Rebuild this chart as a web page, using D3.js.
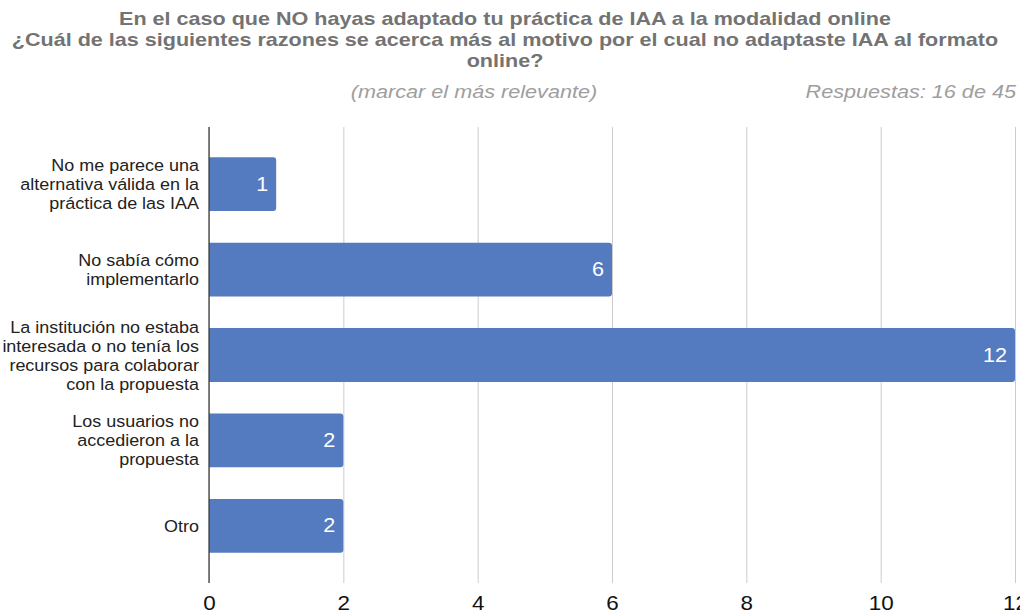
<!DOCTYPE html>
<html>
<head>
<meta charset="utf-8">
<script src="https://cdn.jsdelivr.net/npm/d3@7"></script>
<style>
  html, body { margin: 0; padding: 0; background: #fff; }
  svg { display: block; font-family: "Liberation Sans", Arial, Helvetica, sans-serif; }
</style>
</head>
<body>
<svg id="chart" width="1020" height="614"></svg>
<script>
// Reasons for not moving IAA practice online (16 responses)
const categories = [
  ["No me parece una", "alternativa válida en la", "práctica de las IAA"],
  ["No sabía cómo", "implementarlo"],
  ["La institución no estaba", "interesada o no tenía los", "recursos para colaborar", "con la propuesta"],
  ["Los usuarios no", "accedieron a la", "propuesta"],
  ["Otro"]
];
const values = [1, 6, 12, 2, 2];
const tickValues = [0, 2, 4, 6, 8, 10, 12];
const titleLines = [
  "En el caso que NO hayas adaptado tu práctica de IAA a la modalidad online",
  "¿Cuál de las siguientes razones se acerca más al motivo por el cual no adaptaste IAA al formato",
  "online?"
];
const subtitle = "(marcar el más relevante)";
const responses = "Respuestas: 16 de 45";

const svg = d3.select("#chart");
const barColor = "#547bc0";

const x = d3.scaleLinear().domain([0, 12]).range([209, 1015]);
const ids = categories.map((c, i) => i);
const y = d3.scaleBand().domain(ids).range([127, 583]).paddingInner(0.37).paddingOuter(0.355);

// Title (slightly widened lettering)
const titleY = [25, 46, 67];
titleLines.forEach((t, i) => {
  svg.append("g").attr("transform", `translate(505,${titleY[i]}) scale(1.16,1)`)
    .append("text").attr("text-anchor", "middle")
    .attr("fill", "#737373").attr("font-weight", "bold").attr("font-size", 18.6)
    .text(t);
});
svg.append("g").attr("transform", "translate(474,98) scale(1.17,1)")
  .append("text").attr("text-anchor", "middle")
  .attr("font-style", "italic").attr("font-size", 18.5).attr("fill", "#9e9e9e").text(subtitle);
svg.append("g").attr("transform", "translate(1016,98) scale(1.17,1)")
  .append("text").attr("text-anchor", "end")
  .attr("font-style", "italic").attr("font-size", 18.5).attr("fill", "#9e9e9e").text(responses);

// Gridlines and bottom axis
const axis = d3.axisBottom(x).tickValues(tickValues).tickSize(456).tickPadding(13).tickFormat(d3.format("d"));
const gAxis = svg.append("g").attr("transform", "translate(0,127)").call(axis);
gAxis.select(".domain").remove();
gAxis.selectAll(".tick line").attr("stroke", "#cccccc").attr("stroke-width", 1);
gAxis.selectAll(".tick text")
  .attr("font-size", 19.5).attr("fill", "#111")
  .attr("font-family", "Liberation Sans, Arial, sans-serif")
  .attr("transform", "scale(1.15,1)");

// Bars with rounded right ends
const r = 3;
function barPath(x0, x1, y0, h) {
  const rr = Math.min(r, (x1 - x0) / 2);
  return `M${x0},${y0}H${x1 - rr}Q${x1},${y0} ${x1},${y0 + rr}V${y0 + h - rr}Q${x1},${y0 + h} ${x1 - rr},${y0 + h}H${x0}Z`;
}
svg.append("g").selectAll("path").data(values).join("path")
  .attr("d", (v, i) => barPath(x(0), x(v), y(i), y.bandwidth()))
  .attr("fill", barColor);

// Zero baseline
svg.append("line").attr("x1", x(0)).attr("x2", x(0)).attr("y1", 127).attr("y2", 583)
  .attr("stroke", "#333").attr("stroke-width", 1.2);

// Value labels
svg.append("g").selectAll("g").data(values).join("g")
  .attr("transform", (v, i) => `translate(${x(v) - 8},${y(i) + y.bandwidth() / 2}) scale(1.08,1)`)
  .append("text")
  .attr("dy", "0.33em")
  .attr("text-anchor", "end")
  .attr("fill", "#fff").attr("font-size", 20)
  .text(v => v);

// Category labels
const lh = 19;
categories.forEach((lines, i) => {
  const cy = y(i) + y.bandwidth() / 2;
  const t = svg.append("g").attr("transform", "translate(199,0) scale(1.07,1)")
    .append("text").attr("text-anchor", "end")
    .attr("font-size", 16.8).attr("fill", "#222");
  lines.forEach((ln, j) => {
    t.append("tspan").attr("x", 0)
      .attr("y", cy + (j - (lines.length - 1) / 2) * lh)
      .attr("dy", "0.36em").text(ln);
  });
});
</script>
</body>
</html>
